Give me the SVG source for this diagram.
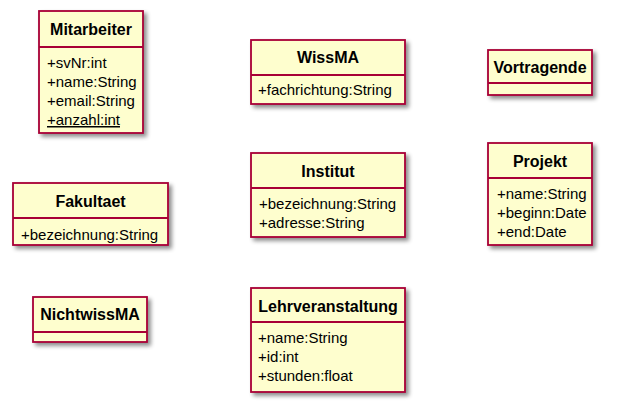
<svg xmlns="http://www.w3.org/2000/svg" width="626" height="406" viewBox="0 0 626 406">
<defs>
<filter id="sh" x="-10%" y="-10%" width="130%" height="130%">
<feGaussianBlur in="SourceAlpha" stdDeviation="2"/>
<feOffset dx="3" dy="3" result="b"/>
<feComponentTransfer><feFuncA type="linear" slope="0.45"/></feComponentTransfer>
<feMerge><feMergeNode/><feMergeNode in="SourceGraphic"/></feMerge>
</filter>
</defs>
<style>
.box{fill:#FEFECE;stroke:#A80036;stroke-width:1.8;filter:url(#sh)}
.div{stroke:#A80036;stroke-width:1.8}
.t{font-family:"Liberation Sans",Arial,sans-serif;font-size:16px;font-weight:bold;text-anchor:middle;fill:#000}
.a{font-family:"Liberation Sans",Arial,sans-serif;font-size:15px;fill:#000}
</style>
<rect width="626" height="406" fill="#fff"/>
<g id="Mitarbeiter">
<rect class="box" x="39" y="11" width="104" height="122"/>
<line class="div" x1="39" y1="47" x2="143" y2="47"/>
<text class="t" x="91" y="35">Mitarbeiter</text>
<text class="a" x="47" y="68">+svNr:int</text>
<text class="a" x="47" y="87">+name:String</text>
<text class="a" x="47" y="106">+email:String</text>
<text class="a" x="47" y="125" text-decoration="underline">+anzahl:int</text>
</g>
<g id="WissMA">
<rect class="box" x="251" y="40" width="154" height="64"/>
<line class="div" x1="251" y1="75" x2="405" y2="75"/>
<text class="t" x="328" y="63">WissMA</text>
<text class="a" x="258" y="95">+fachrichtung:String</text>
</g>
<g id="Vortragende">
<rect class="box" x="488" y="50" width="104" height="45"/>
<line class="div" x1="488" y1="83" x2="592" y2="83"/>
<text class="t" x="540" y="73">Vortragende</text>
</g>
<g id="Fakultaet">
<rect class="box" x="13" y="183" width="155" height="62"/>
<line class="div" x1="13" y1="218" x2="168" y2="218"/>
<text class="t" x="90.5" y="207">Fakultaet</text>
<text class="a" x="21" y="240">+bezeichnung:String</text>
</g>
<g id="Institut">
<rect class="box" x="251" y="153" width="154" height="84"/>
<line class="div" x1="251" y1="188" x2="405" y2="188"/>
<text class="t" x="328" y="177">Institut</text>
<text class="a" x="259" y="209">+bezeichnung:String</text>
<text class="a" x="259" y="228">+adresse:String</text>
</g>
<g id="Projekt">
<rect class="box" x="488" y="143" width="104" height="102"/>
<line class="div" x1="488" y1="178" x2="592" y2="178"/>
<text class="t" x="540" y="167">Projekt</text>
<text class="a" x="497" y="199">+name:String</text>
<text class="a" x="497" y="218">+beginn:Date</text>
<text class="a" x="497" y="237">+end:Date</text>
</g>
<g id="NichtwissMA">
<rect class="box" x="33" y="297" width="114" height="45"/>
<line class="div" x1="33" y1="332" x2="147" y2="332"/>
<text class="t" x="90" y="320">NichtwissMA</text>
</g>
<g id="Lehrveranstaltung">
<rect class="box" x="251" y="288" width="154" height="104"/>
<line class="div" x1="251" y1="322" x2="405" y2="322"/>
<text class="t" x="328" y="312">Lehrveranstaltung</text>
<text class="a" x="258" y="343">+name:String</text>
<text class="a" x="258" y="362">+id:int</text>
<text class="a" x="258" y="381">+stunden:float</text>
</g>
<g id="connectors"/>
</svg>
